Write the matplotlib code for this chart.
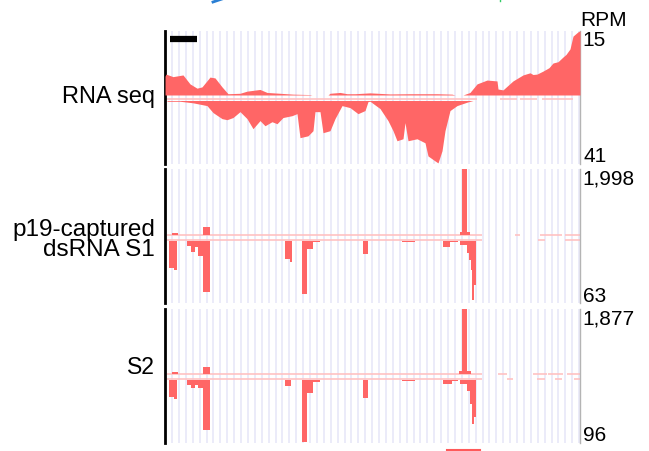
import numpy as np
import matplotlib.pyplot as plt
from matplotlib.lines import Line2D

plt.rcParams['font.family'] = ['Liberation Sans', 'DejaVu Sans']

# genome position in bins (0-415), coverage in RPM
rna_plus_pos = [0, 1, 8, 18, 25, 32, 37, 45, 50, 57, 63, 75, 82, 95, 102, 115, 128, 145, 147, 163,
                165, 175, 182, 190, 205, 225, 245, 272, 287, 290, 298, 305, 312, 322, 332, 333, 338, 348,
                358, 365, 368, 372, 378, 384, 388, 393, 398, 401, 405, 408, 413, 415]
rna_plus = [4.4, 4.9, 4.3, 4.7, 2.6, 1.6, 1.9, 4.2, 4.0, 1.9, 0.3, 0.4, 0.9, 1.3, 0.6, 0.4, 0.2, 0.1, 0, 0,
            0.4, 0.6, 0.3, 0.3, 0.5, 0.25, 0.3, 0.3, 0.2, 0, 0, 0.6, 2.6, 3.5, 3.3, 1.4, 1.2, 3.3,
            4.7, 5.2, 4.8, 4.9, 5.6, 6.4, 7.5, 7.8, 8.9, 9.5, 10.8, 13.8, 14.8, 15]
rna_minus_pos = [2, 15, 28, 42, 48, 57, 62, 68, 75, 82, 88, 95, 100, 107, 112, 118, 127, 132, 135, 143,
                 148, 150, 155, 158, 165, 170, 177, 185, 193, 200, 203, 205, 215, 223, 228, 232, 238, 240,
                 243, 252, 260, 263, 270, 273, 277, 280, 285, 292, 302, 308]
rna_minus = [0.5, 0.5, 1.5, 3.3, 7.8, 11.7, 12.4, 11, 7.2, 11.7, 18.2, 13, 16.3, 13.7, 15, 11, 9.8, 8.5, 24, 22.8,
             19.5, 7.2, 7.2, 20.8, 19.5, 11.7, 3.3, 4.6, 8.5, 6.5, 0.7, 0.5, 5.2, 13, 19.5, 26, 24.7, 14.3,
             26, 24.7, 27.3, 35.8, 39, 40.3, 32.5, 19.5, 6.5, 3.3, 1.1, 0]

s1_plus_pos = [0, 7, 13, 38, 45, 295, 297, 302, 305, 415]
s1_plus = [0, 40, 0, 225, 0, 80, 1998, 80, 0, 0]
s1_minus_pos = [0, 4, 9, 12, 22, 26, 30, 33, 38, 44.5, 113, 120, 125, 127, 137, 142, 148, 155, 198, 203,
                237, 250, 278, 285, 293, 295, 302, 304, 306, 307, 309, 311, 415]
s1_minus = [0, 28, 30, 0, 6, 12, 7, 16, 52, 0, 1, 19, 22, 0, 54, 9, 2, 0, 14, 0,
            1.7, 0, 7, 2, 0, 5, 13, 20, 30, 60, 45, 0, 0]

s2_plus_pos = [0, 7, 13, 38, 45, 294, 297, 302, 306, 415]
s2_plus = [0, 30, 0, 176, 0, 60, 1877, 60, 0, 0]
s2_minus_pos = [0, 4, 9, 12, 22, 26, 30, 33, 38, 44.5, 83, 88, 120, 126, 137, 142, 148, 155, 198, 203,
                237, 250, 278, 287, 293, 295, 302, 305, 307, 309, 311, 415]
s2_minus = [0, 27, 29, 0, 9, 13, 8, 13, 76, 0, 1.5, 0, 10, 0, 95, 20, 4.5, 0, 28, 0,
            3, 0, 7, 2, 0, 7, 17, 37, 67, 57, 0, 0]

# annotation segments drawn as pale lines (start, end)
rna_ann = [(2, 312), (335, 352), (355, 372), (377, 408)]
s1_ann_plus = [(2, 317), (350, 355), (375, 397), (400, 415)]
s1_ann_minus = [(2, 317), (373, 380), (400, 415)]
s2_ann_plus = [(2, 317), (333, 342), (368, 382), (383, 398), (402, 415)]
s2_ann_minus = [(2, 317), (342, 348), (372, 380), (390, 397), (409, 415)]

names = ['RNA seq', 'p19-captured\ndsRNA S1', 'S2']
name_sizes = [17, 17.5, 16.5]
top_labels = ['15', '1,998', '1,877']
bottom_labels = ['41', '63', '96']
plus_max = [15, 1998, 1877]
minus_max = [41, 63, 96]

W, H = 649, 452
red = '#ff6666'
pale = '#ffc2c2'
grid = '#e9e9f9'

fig = plt.figure(figsize=(W / 100, H / 100), dpi=100)


def fax(x0, y0, x1, y1):
    return fig.add_axes([x0 / W, 1 - y1 / H, (x1 - x0) / W, (y1 - y0) / H])


# (top, plus baseline, minus baseline, bottom) in pixels
panels = [(32, 96, 101.5, 165), (170, 235.5, 241.5, 304), (310, 374.5, 380.5, 444)]
name_y = [97, 240, 368]
plus_data = [(rna_plus_pos, rna_plus), (s1_plus_pos, s1_plus), (s2_plus_pos, s2_plus)]
minus_data = [(rna_minus_pos, rna_minus), (s1_minus_pos, s1_minus), (s2_minus_pos, s2_minus)]

for i, (top, pb, mb, bot) in enumerate(panels):
    bg = fax(165, top, 580, bot)
    bg.set_xlim(0, 415)
    bg.set_ylim(bot, top)
    bg.vlines(np.arange(7, 415, 6.9), bot, top, color=grid, lw=1.3, zorder=0)
    for s in ['top', 'bottom']:
        bg.spines[s].set_visible(False)
    bg.spines['left'].set_linewidth(2)
    bg.spines['left'].set_color('black')
    bg.spines['right'].set_linewidth(1)
    bg.spines['right'].set_color('#b4b4b4')
    bg.set_xticks([])
    bg.set_yticks([])

    pax = fax(165, top, 580, pb)
    max_ = fax(165, mb, 580, bot)
    pos, val = plus_data[i]
    mpos, mval = minus_data[i]
    if i == 0:
        pax.fill_between(pos, val, color=red, lw=0)
        max_.fill_between(mpos, mval, color=red, lw=0)
        for s, e in rna_ann:
            bg.hlines(99.5, s, e, color=pale, lw=1.2)
        # scale bar
        bg.hlines(39.5, 5, 32, color='black', lw=4.5)
    else:
        pax.fill_between(pos, val, step='post', color=red, lw=0)
        max_.fill_between(mpos, mval, step='post', color=red, lw=0)
        ann_p = s1_ann_plus if i == 1 else s2_ann_plus
        ann_m = s1_ann_minus if i == 1 else s2_ann_minus
        for s, e in ann_p:
            bg.hlines(pb, s, e, color=pale, lw=1.2)
        for s, e in ann_m:
            bg.hlines(mb - 0.5, s, e, color=pale, lw=1.2)
    pax.set_xlim(0, 415)
    pax.set_ylim(0, plus_max[i])
    max_.set_xlim(0, 415)
    max_.set_ylim(minus_max[i], 0)
    for a in (pax, max_):
        a.axis('off')
        a.patch.set_alpha(0)

    fig.text(155 / W, 1 - name_y[i] / H, names[i],
             ha='right', va='center', fontsize=name_sizes[i], linespacing=0.85)
    fig.text(582 / W, 1 - (top + 9) / H, top_labels[i], ha='left', va='center', fontsize=15)
    fig.text(583 / W, 1 - (bot - 8) / H, bottom_labels[i], ha='left', va='center', fontsize=15)

fig.text(580 / W, 1 - 21 / H, 'RPM', ha='left', va='center', fontsize=15)

# cut-off marks at the top and bottom edges
fig.add_artist(Line2D([213 / W, 222 / W], [1 - 3 / H, 1.0], color='#2a7fd4', lw=2))
fig.add_artist(Line2D([500 / W, 500 / W], [1 - 2 / H, 1.0], color='#33cc66', lw=1))
fig.add_artist(Line2D([447 / W, 480 / W], [1 - 451 / H, 1 - 451 / H], color='#ff5a5a', lw=1.5))

fig.savefig('out.png', dpi=100)
